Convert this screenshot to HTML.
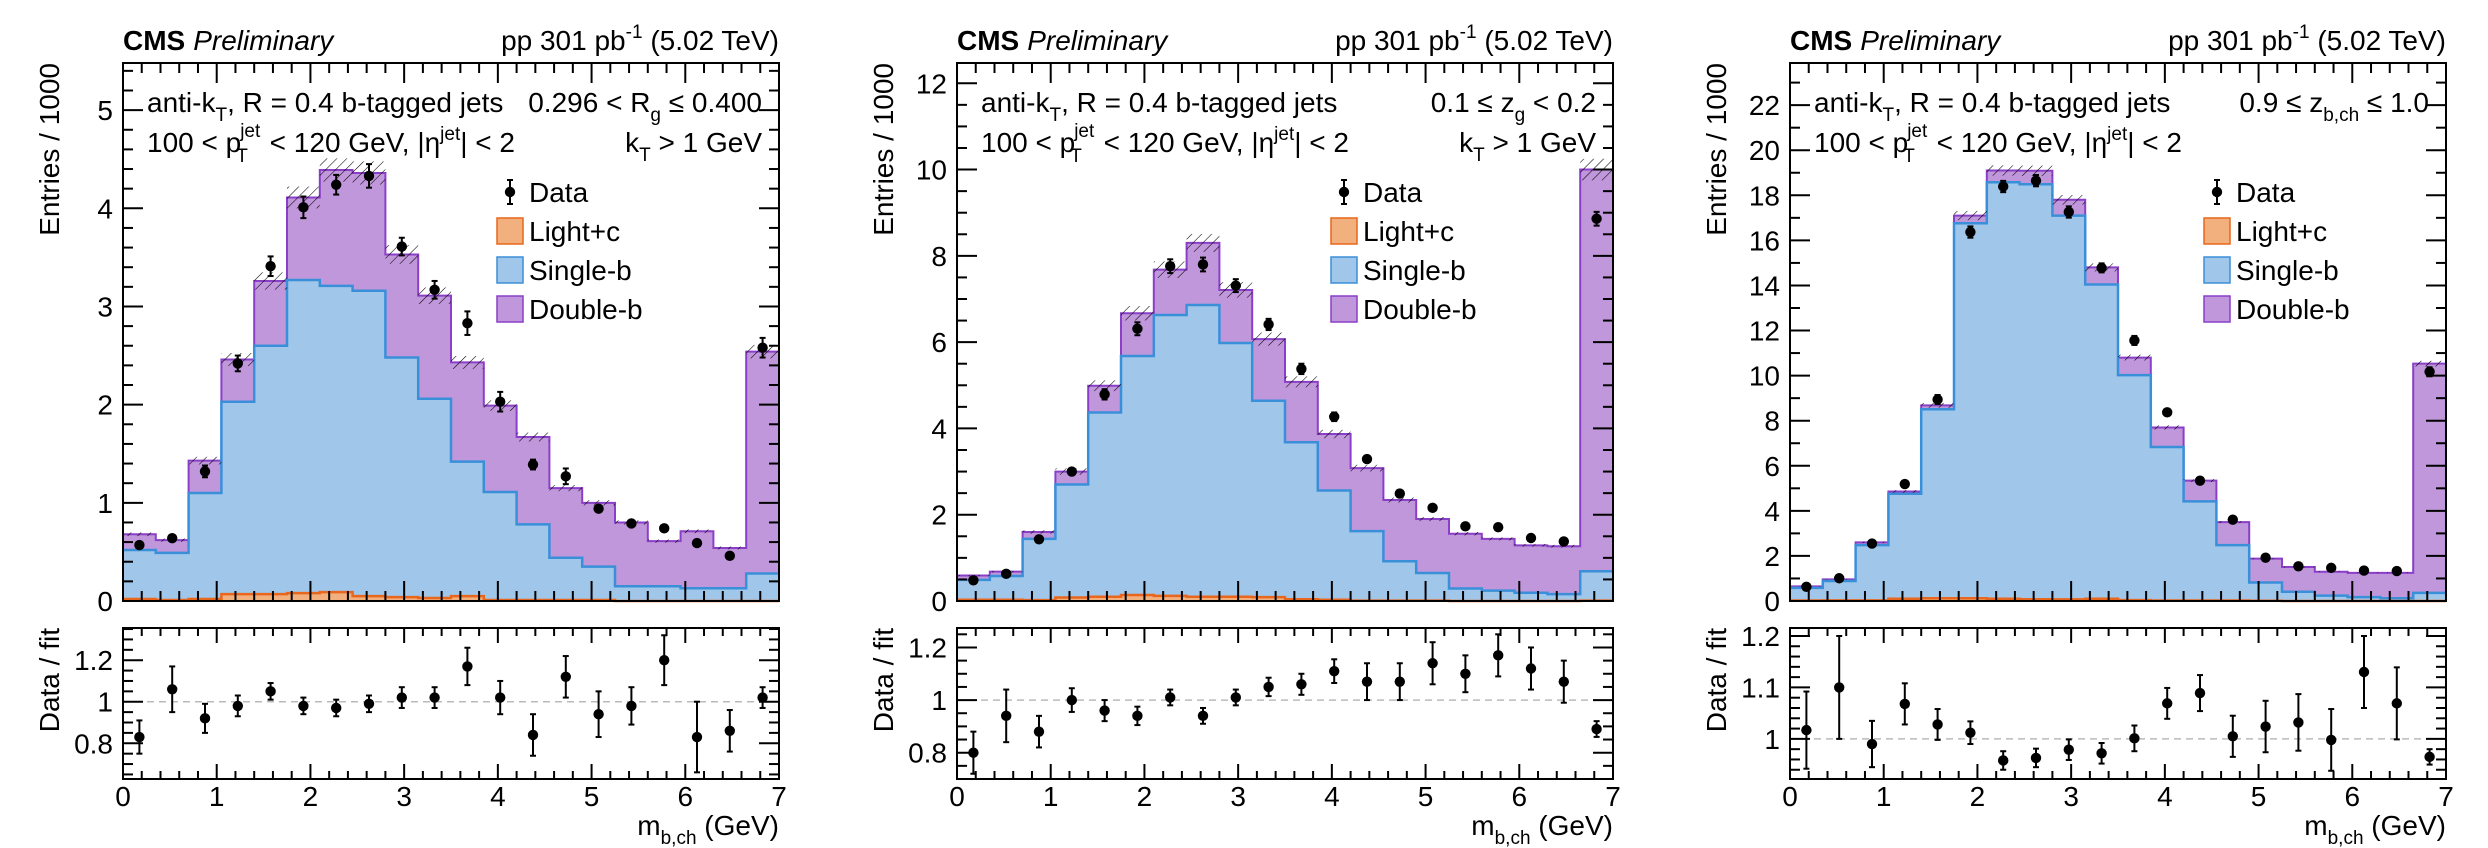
<!DOCTYPE html>
<html><head><meta charset="utf-8"><style>
html,body{margin:0;padding:0;background:#fff;}
svg{display:block;font-family:"Liberation Sans",sans-serif;}
</style></head><body>
<svg id="s" width="2488" height="848" xmlns="http://www.w3.org/2000/svg">
<defs>
<pattern id="h" width="7" height="7" patternUnits="userSpaceOnUse" patternTransform="rotate(45)">
<line x1="0" y1="0" x2="0" y2="7" stroke="#000" stroke-width="1.1"/>
</pattern>
</defs>
</svg>
<script>
const S=document.getElementById('s');
let out='';
const W=656, MT=63, MB=601, RT=628, RB=779;
const P=[
{x0:123,ymax:5.48,maj:1,min:0.2,rmin:0.628,rmax:1.355,rmaj:0.2,rminor:0.05,rlabels:[0.8,1,1.2],
 tot:[0.68,0.62,1.43,2.46,3.26,4.11,4.39,4.36,3.53,3.11,2.43,1.99,1.67,1.15,1.00,0.80,0.61,0.71,0.54,2.54],
 sb:[0.52,0.49,1.10,2.03,2.60,3.27,3.21,3.16,2.48,2.06,1.42,1.11,0.78,0.44,0.35,0.15,0.15,0.13,0.13,0.28],
 lc:[0.02,0.01,0.02,0.07,0.07,0.08,0.09,0.05,0.04,0.03,0.05,0.01,0.01,0.01,0.01,0.0,0.0,0.0,0.0,0.0],
 d:[0.57,0.64,1.32,2.42,3.41,4.01,4.24,4.33,3.61,3.17,2.83,2.03,1.39,1.27,0.94,0.79,0.74,0.59,0.46,2.58],
 de:[0.04,0.03,0.06,0.08,0.1,0.11,0.1,0.12,0.09,0.09,0.12,0.1,0.05,0.08,0.03,0.03,0.03,0.03,0.03,0.1],
 r:[0.83,1.06,0.92,0.98,1.05,0.98,0.97,0.99,1.02,1.02,1.17,1.02,0.84,1.12,0.94,0.98,1.20,0.83,0.86,1.02],
 re:[0.08,0.11,0.07,0.05,0.04,0.04,0.04,0.04,0.05,0.05,0.09,0.08,0.10,0.10,0.11,0.09,0.12,0.17,0.10,0.05],
 unc:0.027, t1:'0.296 &lt; R<tspan font-size="19" dy="9">g</tspan><tspan dy="-9"> ≤ 0.400</tspan>', kt:true, legdx:387},
{x0:957,ymax:12.47,maj:2,min:0.5,rmin:0.70,rmax:1.274,rmaj:0.2,rminor:0.05,rlabels:[0.8,1,1.2],
 tot:[0.59,0.68,1.60,3.0,4.99,6.67,7.68,8.30,7.21,6.07,5.08,3.87,3.08,2.34,1.90,1.56,1.44,1.29,1.27,10.0],
 sb:[0.49,0.58,1.44,2.70,4.37,5.68,6.63,6.86,5.98,4.64,3.68,2.56,1.62,0.92,0.65,0.29,0.24,0.19,0.16,0.69],
 lc:[0.03,0.03,0.02,0.08,0.1,0.14,0.12,0.1,0.1,0.09,0.04,0.03,0.01,0.01,0.01,0,0,0,0,0.01],
 d:[0.48,0.63,1.43,3.0,4.79,6.31,7.76,7.80,7.31,6.41,5.38,4.27,3.29,2.49,2.16,1.73,1.71,1.46,1.38,8.86],
 de:[0.03,0.04,0.06,0.08,0.12,0.15,0.16,0.16,0.15,0.13,0.12,0.1,0.08,0.06,0.05,0.05,0.05,0.05,0.05,0.16],
 r:[0.80,0.94,0.88,1.00,0.96,0.94,1.01,0.94,1.01,1.05,1.06,1.11,1.07,1.07,1.14,1.10,1.17,1.12,1.07,0.89],
 re:[0.08,0.10,0.06,0.045,0.04,0.035,0.03,0.03,0.03,0.035,0.04,0.045,0.07,0.07,0.08,0.07,0.08,0.08,0.08,0.03],
 unc:0.025, t1:'0.1 ≤ z<tspan font-size="19" dy="9">g</tspan><tspan dy="-9"> &lt; 0.2</tspan>', kt:true, legdx:387},
{x0:1790,ymax:23.87,maj:2,min:1,rmin:0.922,rmax:1.2155,rmaj:0.1,rminor:0.02,rlabels:[1,1.1,1.2],
 tot:[0.65,0.96,2.6,4.86,8.68,17.1,19.1,19.09,17.8,14.8,10.8,7.7,5.34,3.5,1.88,1.51,1.30,1.25,1.25,10.53],
 sb:[0.58,0.89,2.48,4.76,8.51,16.76,18.58,18.49,17.1,14.04,10.02,6.83,4.42,2.48,0.82,0.41,0.24,0.17,0.12,0.36],
 lc:[0.02,0.03,0.03,0.1,0.12,0.12,0.1,0.08,0.07,0.1,0.04,0.02,0.02,0.02,0.01,0,0,0,0,0],
 d:[0.63,1.01,2.55,5.19,8.94,16.37,18.39,18.65,17.26,14.78,11.56,8.37,5.34,3.61,1.92,1.54,1.47,1.35,1.33,10.17],
 de:[0.05,0.07,0.1,0.15,0.2,0.25,0.25,0.25,0.25,0.2,0.2,0.15,0.12,0.1,0.07,0.07,0.07,0.07,0.07,0.2],
 r:[1.017,1.10,0.99,1.068,1.028,1.012,0.958,0.963,0.979,0.972,1.001,1.069,1.089,1.005,1.024,1.032,0.998,1.13,1.069,0.965],
 re:[0.075,0.10,0.045,0.04,0.03,0.022,0.018,0.018,0.02,0.02,0.025,0.03,0.035,0.04,0.05,0.055,0.06,0.07,0.07,0.015],
 unc:0.012, t1:'0.9 ≤ z<tspan font-size="19" dy="9">b,ch</tspan><tspan dy="-9"> ≤ 1.0</tspan>', kt:false, legdx:427}
];
function f(v){return Math.round(v*100)/100;}
P.forEach(p=>{
 const x0=p.x0,x1=x0+W,bw=W/20;
 const Y=v=>MB-(v/p.ymax)*(MB-MT);
 const RY=v=>RB-(v-p.rmin)/(p.rmax-p.rmin)*(RB-RT);
 const X=v=>x0+v/7*W;
 function stepPath(arr){let s=`M${x0},${MB}`;arr.forEach((v,i)=>{s+=` L${f(x0+i*bw)},${f(Y(v))} L${f(x0+(i+1)*bw)},${f(Y(v))}`;});s+=` L${x1},${MB} Z`;return s;}
 function stepLine(arr){let s='';arr.forEach((v,i)=>{s+=(i?' L':'M')+`${f(x0+i*bw)},${f(Y(v))} L${f(x0+(i+1)*bw)},${f(Y(v))}`;});return s;}
 out+=`<path d="${stepPath(p.tot)}" fill="#c197db"/>`;
 out+=`<path d="${stepLine(p.tot)}" fill="none" stroke="#8a3fc8" stroke-width="2"/>`;
 out+=`<path d="${stepPath(p.sb)}" fill="#a0c6ea"/>`;
 out+=`<path d="${stepLine(p.sb)}" fill="none" stroke="#3a8fd9" stroke-width="2.5"/>`;
 out+=`<path d="${stepPath(p.lc)}" fill="#f2b07f"/>`;
 out+=`<path d="${stepLine(p.lc)}" fill="none" stroke="#e8671c" stroke-width="2.5"/>`;
 p.tot.forEach((v,i)=>{const a=Y(v*(1+p.unc)),b=Y(v*(1-p.unc));out+=`<rect x="${f(x0+i*bw)}" y="${f(a)}" width="${f(bw)}" height="${f(b-a)}" fill="url(#h)"/>`;});
 // data
 p.d.forEach((v,i)=>{const cx=x0+(i+0.5)*bw;const a=Y(v+p.de[i]),b=Y(v-p.de[i]);
  out+=`<line x1="${f(cx)}" y1="${f(a)}" x2="${f(cx)}" y2="${f(b)}" stroke="#000" stroke-width="2"/>`;
  if(b-a>8){out+=`<line x1="${f(cx-3)}" y1="${f(a)}" x2="${f(cx+3)}" y2="${f(a)}" stroke="#000" stroke-width="2"/><line x1="${f(cx-3)}" y1="${f(b)}" x2="${f(cx+3)}" y2="${f(b)}" stroke="#000" stroke-width="2"/>`;}
  out+=`<circle cx="${f(cx)}" cy="${f(Y(v))}" r="5.2" fill="#000"/>`;});
 // main frame ticks
 out+=`<rect x="${x0}" y="${MT}" width="${W}" height="${MB-MT}" fill="none" stroke="#000" stroke-width="2"/>`;
 for(let v=0;v<=p.ymax+1e-6;v+=p.min){const y=Y(v);const isM=Math.abs(v/p.maj-Math.round(v/p.maj))<1e-6;const L=isM?20:10;
  out+=`<line x1="${x0}" y1="${f(y)}" x2="${x0+L}" y2="${f(y)}" stroke="#000" stroke-width="2"/><line x1="${x1}" y1="${f(y)}" x2="${x1-L}" y2="${f(y)}" stroke="#000" stroke-width="2"/>`;
  if(isM)out+=`<text x="${x0-10}" y="${f(y+10)}" font-size="28" text-anchor="end">${Math.round(v)}</text>`;}
 for(let k=0;k<=35;k++){const x=X(k*0.2);const L=k%5==0?20:10;
  out+=`<line x1="${f(x)}" y1="${MB}" x2="${f(x)}" y2="${MB-L}" stroke="#000" stroke-width="2"/><line x1="${f(x)}" y1="${MT}" x2="${f(x)}" y2="${MT+L}" stroke="#000" stroke-width="2"/>`;
  out+=`<line x1="${f(x)}" y1="${RB}" x2="${f(x)}" y2="${RB-(k%5==0?15:8)}" stroke="#000" stroke-width="2"/><line x1="${f(x)}" y1="${RT}" x2="${f(x)}" y2="${RT+(k%5==0?15:8)}" stroke="#000" stroke-width="2"/>`;
  if(k%5==0)out+=`<text x="${f(x)}" y="806" font-size="28" text-anchor="middle">${k/5}</text>`;}
 // ratio
 out+=`<line x1="${x0}" y1="${f(RY(1))}" x2="${x1}" y2="${f(RY(1))}" stroke="#bbb" stroke-width="1.5" stroke-dasharray="7,5"/>`;
 const st=Math.ceil(p.rmin/p.rminor-1e-6);
 for(let k=st;k*p.rminor<=p.rmax+1e-9;k++){const v=k*p.rminor;const y=RY(v);const isM=Math.abs(v/p.rmaj-Math.round(v/p.rmaj))<1e-6;const L=isM?20:10;
  out+=`<line x1="${x0}" y1="${f(y)}" x2="${x0+L}" y2="${f(y)}" stroke="#000" stroke-width="2"/><line x1="${x1}" y1="${f(y)}" x2="${x1-L}" y2="${f(y)}" stroke="#000" stroke-width="2"/>`;}
 p.rlabels.forEach(v=>{out+=`<text x="${x0-10}" y="${f(RY(v)+10)}" font-size="28" text-anchor="end">${v}</text>`;});
 p.r.forEach((v,i)=>{const cx=x0+(i+0.5)*bw;const a=Math.max(RT,RY(v+p.re[i])),b=Math.min(RB,RY(v-p.re[i]));
  out+=`<line x1="${f(cx)}" y1="${f(a)}" x2="${f(cx)}" y2="${f(b)}" stroke="#000" stroke-width="2"/><line x1="${f(cx-3)}" y1="${f(a)}" x2="${f(cx+3)}" y2="${f(a)}" stroke="#000" stroke-width="2"/><line x1="${f(cx-3)}" y1="${f(b)}" x2="${f(cx+3)}" y2="${f(b)}" stroke="#000" stroke-width="2"/><circle cx="${f(cx)}" cy="${f(RY(v))}" r="5.2" fill="#000"/>`;});
 out+=`<rect x="${x0}" y="${RT}" width="${W}" height="${RB-RT}" fill="none" stroke="#000" stroke-width="2"/>`;
 // texts
 out+=`<text x="${x0}" y="50" font-size="28"><tspan font-weight="bold">CMS</tspan><tspan font-style="italic" dx="8">Preliminary</tspan></text>`;
 out+=`<text x="${x1}" y="50" font-size="28" text-anchor="end">pp 301 pb<tspan font-size="19" dy="-12">-1</tspan><tspan dy="12"> (5.02 TeV)</tspan></text>`;
 out+=`<text x="${x0+24}" y="112" font-size="28">anti-k<tspan font-size="19" dy="9">T</tspan><tspan dy="-9">, R = 0.4 b-tagged jets</tspan></text>`;
 out+=`<text x="${x0+24}" y="152" font-size="28">100 &lt; p<tspan font-size="19" dx="-1" dy="-15">jet</tspan><tspan font-size="19" dx="-24" dy="25">T</tspan><tspan dx="14" dy="-10"> &lt; 120 GeV, |η</tspan><tspan font-size="19" dy="-12">jet</tspan><tspan dy="12">| &lt; 2</tspan></text>`;
 out+=`<text x="${x1-17}" y="112" font-size="28" text-anchor="end">${p.t1}</text>`;
 if(p.kt)out+=`<text x="${x1-17}" y="152" font-size="28" text-anchor="end">k<tspan font-size="19" dy="9">T</tspan><tspan dy="-9"> &gt; 1 GeV</tspan></text>`;
 const lx=x0+p.legdx;
 out+=`<line x1="${lx}" y1="180" x2="${lx}" y2="204" stroke="#000" stroke-width="2"/><line x1="${lx-3}" y1="180" x2="${lx+3}" y2="180" stroke="#000" stroke-width="2"/><line x1="${lx-3}" y1="204" x2="${lx+3}" y2="204" stroke="#000" stroke-width="2"/><circle cx="${lx}" cy="192" r="5.2"/>`;
 const cols=[['#f2b07f','#e8671c','Light+c'],['#a0c6ea','#3a8fd9','Single-b'],['#c197db','#8a3fc8','Double-b']];
 out+=`<text x="${lx+19}" y="202" font-size="28">Data</text>`;
 cols.forEach((c,i)=>{const cy=231+i*39;out+=`<rect x="${lx-13}" y="${cy-13}" width="26" height="26" fill="${c[0]}" stroke="${c[1]}" stroke-width="1.5"/><text x="${lx+19}" y="${cy+10}" font-size="28">${c[2]}</text>`;});
 out+=`<text transform="translate(${x0-64},${MT}) rotate(-90)" font-size="28" text-anchor="end">Entries / 1000</text>`;
 out+=`<text transform="translate(${x0-64},${RT}) rotate(-90)" font-size="28" text-anchor="end">Data / fit</text>`;
 out+=`<text x="${x1}" y="835" font-size="28" text-anchor="end">m<tspan font-size="19" dy="9">b,ch</tspan><tspan dy="-9"> (GeV)</tspan></text>`;
});
S.insertAdjacentHTML('beforeend',out);
</script>
</body></html>
